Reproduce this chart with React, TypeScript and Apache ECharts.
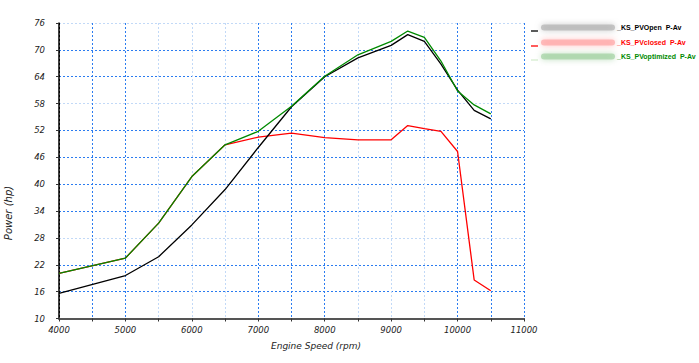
import React, { useEffect, useRef } from "react";
import * as echarts from "echarts";

const rpm = [4000, 5000, 5500, 6000, 6500, 7000, 7500, 8000, 8500, 9000, 9250, 9500, 9750, 10000, 10250, 10500];
const pvOpen = [15.6, 19.6, 23.8, 30.9, 38.8, 48.2, 57.3, 64.0, 68.2, 71.0, 73.4, 71.9, 66.8, 61.0, 56.5, 54.6];
const pvClosed = [20.1, 23.5, 31.3, 41.7, 48.8, 50.5, 51.4, 50.4, 49.9, 49.9, 53.1, 52.4, 51.8, 47.3, 18.6, 16.2];
const pvOptimized = [20.1, 23.5, 31.3, 41.7, 48.8, 51.8, 57.4, 64.1, 68.9, 71.9, 74.2, 72.8, 67.5, 60.8, 57.7, 55.7];

const seriesNames = ["_KS_PVOpen  P-Av", "_KS_PVclosed  P-Av", "_KS_PVoptimized  P-Av"];
const seriesColors = ["#000000", "#ff0000", "#008a00"];
const blurColors = ["#a8a8a8", "#ff9a9a", "#96cc96"];
const sampleColors = ["#000000", "#ff0000", "#d6ecd0"];

const xAxisTitle = "Engine Speed (rpm)";
const yAxisTitle = "Power (hp)";

const BRIGHT = "#2b7cf0";
const LIGHT = "#c2d9f7";
const xGridColors = ["#000", BRIGHT, BRIGHT, LIGHT, LIGHT, LIGHT, BRIGHT, BRIGHT, BRIGHT, LIGHT, LIGHT, LIGHT, BRIGHT, BRIGHT, BRIGHT];
const yGridColors = ["#000", BRIGHT, BRIGHT, LIGHT, BRIGHT, BRIGHT, BRIGHT, BRIGHT, LIGHT, BRIGHT, BRIGHT, LIGHT];

const toPairs = (ys: number[]) => rpm.map((x, i) => [x, ys[i]]);

export default function App() {
  const ref = useRef<HTMLDivElement>(null);
  useEffect(() => {
    document.body.style.margin = "0";
    if (!ref.current) return;
    const chart = echarts.init(ref.current, undefined, { renderer: "svg" });
    const labelFont = {
      fontFamily: "DejaVu Sans",
      fontStyle: "italic" as const,
      fontSize: 8.5,
      color: "#222",
    };
    const legendRows = [31, 46, 60];
    const legend: any[] = [];
    legendRows.forEach((y, i) => {
      legend.push({
        type: "line",
        shape: { x1: 531, y1: y, x2: 538, y2: y },
        style: { stroke: sampleColors[i], lineWidth: 1.3 },
      });
      legend.push({
        type: "rect",
        shape: { x: 541, y: y - 6.5, width: 74, height: 6, r: 3 },
        style: { fill: blurColors[i], opacity: 0.6, shadowBlur: 6, shadowColor: blurColors[i] },
      });
      legend.push({
        type: "text",
        x: 617,
        y: y - 3.5,
        style: {
          text: seriesNames[i],
          fill: seriesColors[i],
          font: "bold 7px 'Liberation Sans'",
          verticalAlign: "middle",
          align: "left",
        },
      });
    });
    chart.setOption({
      animation: false,
      backgroundColor: "#fff",
      grid: { left: 59, right: 175, top: 23, bottom: 44.5 },
      xAxis: {
        type: "value",
        min: 4000,
        max: 11000,
        interval: 500,
        axisLine: { lineStyle: { color: "#555", width: 2 } },
        axisTick: { show: true, length: 3, lineStyle: { color: "#333" } },
        axisLabel: {
          ...labelFont,
          margin: 7,
          formatter: (v: number) => (v % 1000 === 0 ? String(v) : ""),
        },
        splitLine: { show: true, lineStyle: { color: xGridColors, type: [2, 2], width: 1 } },
      },
      yAxis: {
        type: "value",
        min: 10,
        max: 76,
        interval: 6,
        axisLine: { show: true, lineStyle: { color: "#000", width: 1.5 } },
        axisTick: { show: true, length: 3, lineStyle: { color: "#333" } },
        axisLabel: { ...labelFont, margin: 14 },
        splitLine: { show: true, lineStyle: { color: yGridColors, type: [2, 2], width: 1 } },
      },
      series: [
        {
          name: seriesNames[1],
          type: "line",
          data: toPairs(pvClosed),
          showSymbol: false,
          lineStyle: { color: seriesColors[1], width: 1.3 },
          itemStyle: { color: seriesColors[1] },
        },
        {
          name: seriesNames[0],
          type: "line",
          data: toPairs(pvOpen),
          showSymbol: false,
          lineStyle: { color: seriesColors[0], width: 1.3 },
          itemStyle: { color: seriesColors[0] },
        },
        {
          name: seriesNames[2],
          type: "line",
          data: toPairs(pvOptimized),
          showSymbol: false,
          lineStyle: { color: seriesColors[2], width: 1.3 },
          itemStyle: { color: seriesColors[2] },
        },
      ],
      graphic: [
        ...legend,
        {
          type: "text",
          x: 316,
          y: 346,
          style: {
            text: xAxisTitle,
            fill: "#222",
            font: "italic 9px 'DejaVu Sans'",
            align: "center",
            verticalAlign: "middle",
          },
        },
        {
          type: "text",
          x: 8,
          y: 213,
          rotation: Math.PI / 2,
          style: {
            text: yAxisTitle,
            fill: "#222",
            font: "italic 10px 'DejaVu Sans'",
            align: "center",
            verticalAlign: "middle",
          },
        },
      ],
    });
    return () => chart.dispose();
  }, []);
  return <div ref={ref} style={{ width: 699, height: 363 }} />;
}
